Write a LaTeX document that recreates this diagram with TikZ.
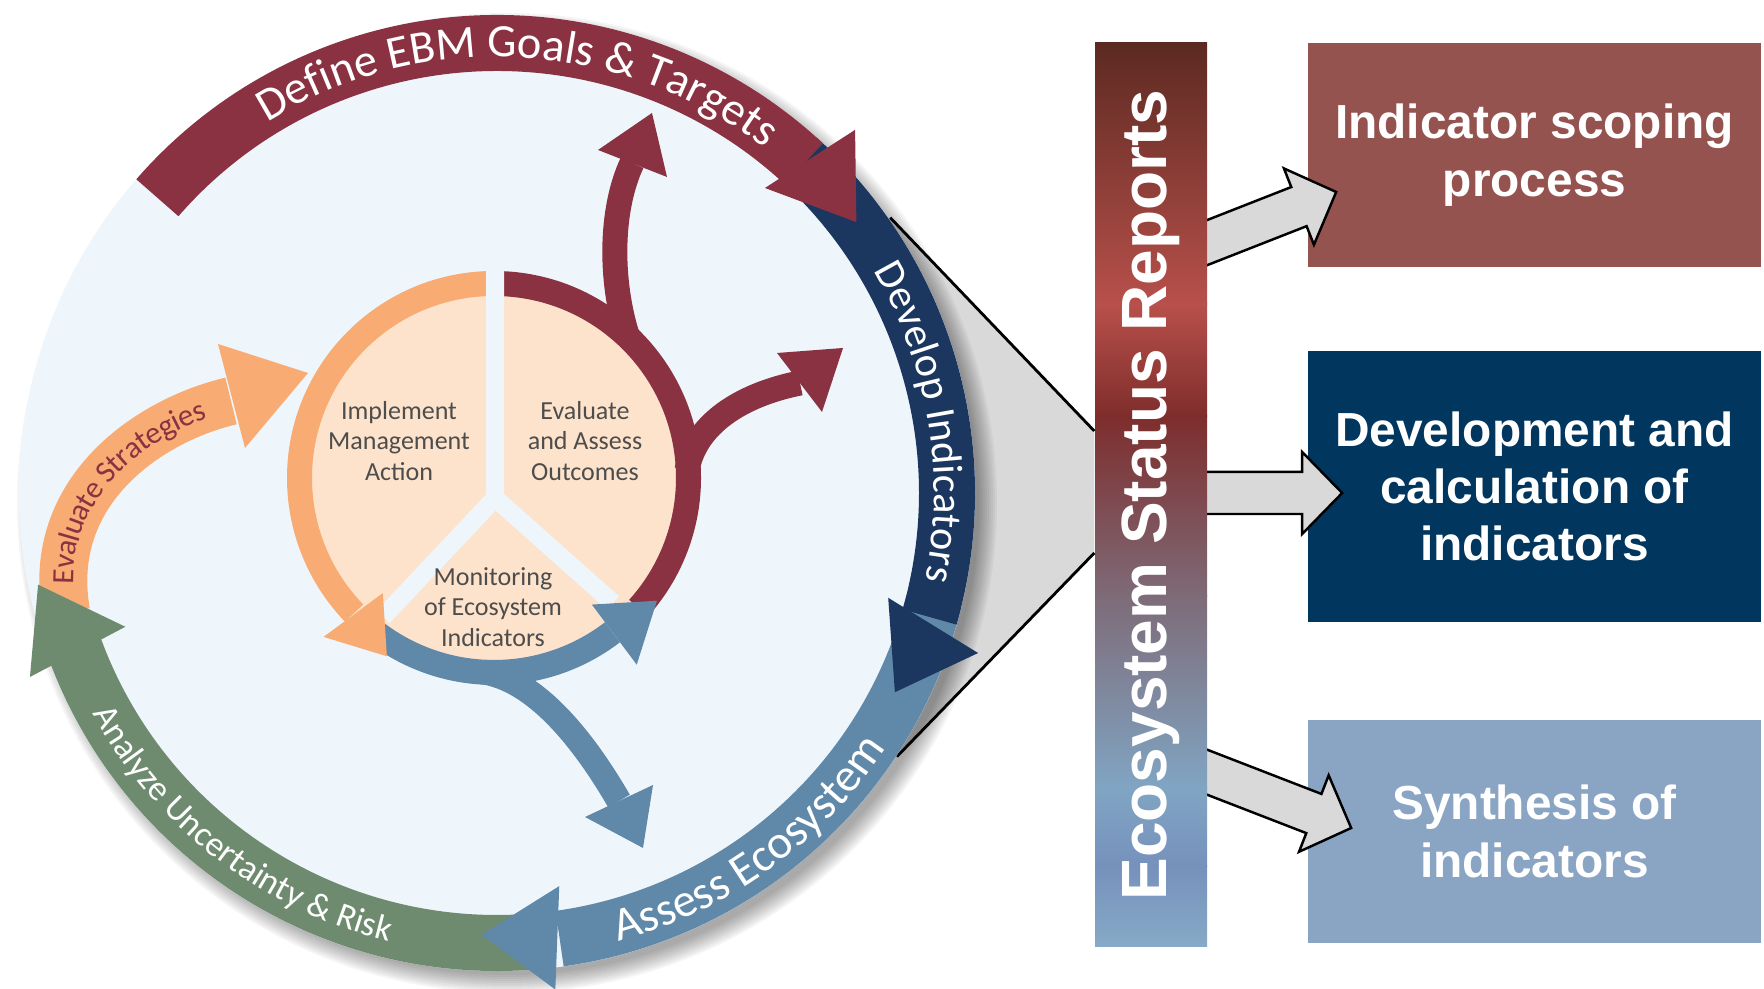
\documentclass[tikz,border=0pt]{standalone}
\usepackage{fontspec}
\setmainfont{Liberation Sans}
\newfontfamily\cyclefont{Carlito}
\usetikzlibrary{calc,decorations.text}

\definecolor{ebmred}{HTML}{8B3242}
\definecolor{ebmnavy}{HTML}{1B365F}
\definecolor{ebmsteel}{HTML}{5F88A9}
\definecolor{ebmgreen}{HTML}{6F8B6F}
\definecolor{ebmorange}{HTML}{F8AB72}
\definecolor{ebmpeach}{HTML}{FDE3CB}
\definecolor{ebmsky}{HTML}{EEF6FC}
\definecolor{ebmgrey}{HTML}{4D4D4D}
\definecolor{boxred}{HTML}{955350}
\definecolor{boxnavy}{HTML}{01365F}
\definecolor{boxblue}{HTML}{8AA5C3}
\definecolor{callout}{HTML}{D9D9D9}
\definecolor{esrA}{HTML}{5C2A22}
\definecolor{esrB}{HTML}{B8504B}
\definecolor{esrC}{HTML}{7E2D2C}
\definecolor{esrD}{HTML}{7E6B78}
\definecolor{esrE}{HTML}{80A5C3}
\definecolor{esrF}{HTML}{7691BC}
\definecolor{esrG}{HTML}{86AAC7}

% fat grey arrow from #1 (tail) to #2 (tip)
\newcommand\fatarrow[2]{%
  \coordinate (fa-b) at ($(#2)!0.4cm!(#1)$);
  \draw[blockarrow] ($(#1)!0.21cm!-90:(#2)$) -- ($(fa-b)!0.21cm!90:(#1)$)
    -- ($(fa-b)!0.41cm!90:(#1)$) -- (#2) -- ($(fa-b)!0.41cm!-90:(#1)$)
    -- ($(fa-b)!0.21cm!-90:(#1)$) -- ($(#1)!0.21cm!90:(#2)$) -- cycle;}

\begin{document}
\begin{tikzpicture}[x=0.01cm, y=0.01cm,
    band/.style={line width=0.56cm},
    innerband/.style={line width=0.25cm},
    branch/.style={line width=0.25cm},
    gap/.style={draw=ebmsky, line width=0.18cm},
    sector/.style={font=\cyclefont\fontsize{7.4}{8.6}\selectfont, text=ebmgrey,
      align=center, inner sep=0pt},
    infobox/.style={minimum width=4.53cm, inner sep=0pt, text=white, align=center,
      font=\bfseries\fontsize{13.6}{16.3}\selectfont},
    blockarrow/.style={fill=callout, draw=black, line width=0.7pt, line join=miter},
    ringlabel/.style={decorate, decoration={text along path, text align=center, text={#1}}},
    curvelabel/.style={decorate, decoration={text along path, text align=center,
      raise=-0.1cm, text={#1}}}]

  \useasboundingbox (0,0) rectangle (1764,989);

  % report bar and the three boxes
  \node[minimum width=1.12cm, minimum height=9.04cm, inner sep=0pt] (esr) at (1151,494) {};
  \node[infobox, fill=boxred, minimum height=2.24cm] (scoping) at (1534.5,834)
    {Indicator scoping\\process};
  \node[infobox, fill=boxnavy, minimum height=2.71cm] (devel) at (1534.5,502.5)
    {Development and\\calculation of\\indicators};
  \node[infobox, fill=boxblue, minimum height=2.23cm] (synth) at (1534.5,157.5)
    {Synthesis of\\indicators};

  % grey arrows, tails hidden under the bar
  \coordinate (t1) at ($(esr.east)+(-27,242)$);
  \coordinate (h1) at ($(scoping.west)+(29,-37)$);
  \coordinate (t2) at ($(esr.east)+(-27,2)$);
  \coordinate (h2) at ($(devel.west)+(35,-6.5)$);
  \coordinate (t3) at ($(esr.east)+(-27,-267)$);
  \coordinate (h3) at ($(synth.west)+(44,3.5)$);
  \fatarrow{t1}{h1}
  \fatarrow{t2}{h2}
  \fatarrow{t3}{h3}

  % bar colour runs
  \foreach \ya/\yb/\ca/\cb in {946/684/esrA/esrB, 685/572/esrB/esrC, 573/392/esrC/esrD,
      393/200/esrD/esrE, 201/122/esrE/esrF, 123/42/esrF/esrG}
    \fill[top color=\ca, bottom color=\cb] (1095,\yb) rectangle (1207,\ya);
  \node[rotate=90, text=white, font=\bfseries\fontsize{18.2}{20}\selectfont] (esrlabel)
    at (esr) {Ecosystem Status Reports};

  % zoom wedge behind the cycle
  \coordinate (C) at (497,496);
  \coordinate (w1) at ($(C)+(35:480)$);
  \coordinate (w2) at ($(C)+(-33.4:479)$);
  \coordinate (e1) at ($(esr.west)+(0,64)$);
  \coordinate (e2) at ($(esr.west)+(0,-58)$);
  \fill[callout] (w1) -- (e1) -- (e2) -- (w2) -- (C) -- cycle;
  \foreach \k in {0,...,9}
    \fill[black, opacity=0.04] ($(C)+(10,-10)$) circle[radius=490-2*\k];
  \draw[line width=0.8pt] (w1) -- (e1) (w2) -- (e2);
  \fill[ebmsky] (C) circle[radius=478];

  % outer cycle
  \begin{scope}[shift={(C)}]
    \draw[band, ebmgreen] (276:450) arc[start angle=276, end angle=199, radius=450];
    \draw[ebmorange, line width=0.48cm] (-431,-119) .. controls (-452,3) and (-347,73) .. (-266,92);
    \fill[ebmorange] (-279,149) -- (-189,120) -- (-252,45) -- cycle;
    \path[curvelabel={|\cyclefont\fontsize{8.8}{10}\selectfont\color{ebmred}|Evaluate Strategies}]
      (-431,-119) .. controls (-452,3) and (-347,73) .. (-266,92);
    \fill[ebmgreen] (191.3:468) -- (201.5:502) -- (199.8:395) -- cycle;
    \draw[band, ebmsteel] (-14:450) arc[start angle=-14, end angle=-82, radius=450];
    \fill[ebmsteel] (-81:398) -- (-92:442) -- (-83.3:500) -- cycle;
    \draw[band, ebmnavy] (48:450) arc[start angle=48, end angle=-16, radius=450];
    \fill[ebmnavy] (-15:405) -- (-26.6:445) -- (-18.4:507) -- cycle;
    \draw[band, ebmred] (139:450) arc[start angle=139, end angle=47, radius=450];
    \fill[ebmred] (48.7:406) -- (37:450) -- (45.4:510) -- cycle;

    \path[ringlabel={|\cyclefont\fontsize{13.2}{14}\selectfont\color{white}|Define EBM Goals {\&} Targets}]
      (132:436) arc[start angle=132, end angle=42, radius=436];
    \path[ringlabel={|\cyclefont\fontsize{12}{14}\selectfont\color{white}|Develop Indicators}]
      (50:437) arc[start angle=50, end angle=-31, radius=437];
    \path[ringlabel={|\cyclefont\fontsize{13.4}{14}\selectfont\color{white}|Assess Ecosystem}]
      (-84:465) arc[start angle=-84, end angle=-24, radius=465];
    \path[ringlabel={|\cyclefont\fontsize{10}{12}\selectfont\color{white}|Analyze Uncertainty {\&} Risk}]
      (200:461) arc[start angle=200, end angle=265, radius=461];
  \end{scope}

  % inner cycle
  \begin{scope}[shift={(494,511)}]
    \fill[ebmpeach] (0,0) circle[radius=195];
    \draw[innerband, ebmred] (88:194.5) arc[start angle=88, end angle=-42, radius=194.5];
    \draw[branch, ebmred] (133,143) .. controls (116,198) and (116,268) .. (138,315);
    \fill[ebmred] (104,328) -- (158,365) -- (173,301) -- cycle;
    \draw[branch, ebmred] (193,8) .. controls (201,53) and (246,83) .. (306,95);
    \fill[ebmred] (283,125) -- (349,130) -- (328,66) -- cycle;
    \draw[innerband, ebmorange] (92:194.5) arc[start angle=92, end angle=224, radius=194.5];
    \draw[innerband, ebmsteel] (230:194.5) arc[start angle=230, end angle=307.5, radius=194.5];
    \draw[branch, ebmsteel] (-10,-194) .. controls (50,-204) and (100,-280) .. (125,-323);
    \fill[ebmsteel] (91,-339) -- (149,-370) -- (159,-307) -- cycle;
    \draw[gap] (1,225) -- (1,-20) -- (-111,-139) (1,-20) -- (119,-125);
    \fill[ebmorange] (226:160) -- (239:208) -- (223:233) -- cycle;
    \fill[ebmsteel] (307.7:160) -- (323:204) -- (307.4:235) -- cycle;
    \node[sector] (impl) at (-95,37) {Implement\\Management\\Action};
    \node[sector] (evalout) at (91,37) {Evaluate\\and Assess\\Outcomes};
    \node[sector] (monit) at (-1,-129) {Monitoring\\of Ecosystem\\Indicators};
  \end{scope}
\end{tikzpicture}
\end{document}
